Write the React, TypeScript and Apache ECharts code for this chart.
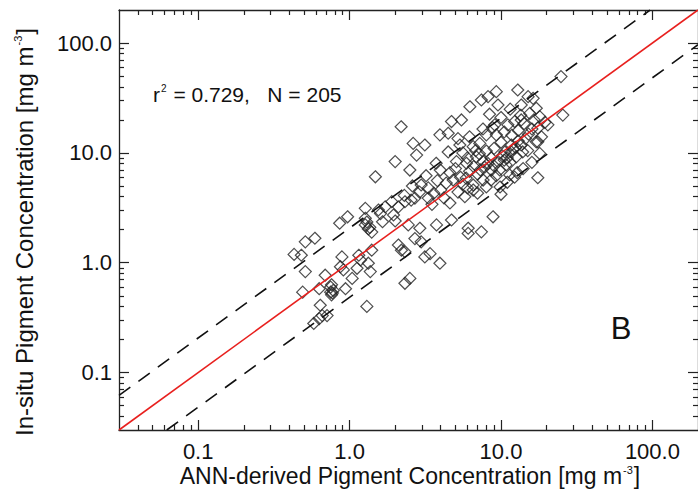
import React, { useEffect, useRef } from "react";
import * as echarts from "echarts";

// ANN-derived pigment concentration (x) and in-situ pigment concentration (y), mg m^-3
const ANN_DERIVED: number[] = [
  0.43, 0.48, 0.51, 0.59, 0.51, 0.49, 0.69, 0.63, 0.76, 0.75,
  0.76, 0.78, 0.64, 0.66, 0.71, 0.58, 0.63, 0.89, 0.87, 0.91,
  0.94, 1.04, 1.12, 1.15, 1.18, 1.4, 1.33, 1.37, 1.3, 0.86,
  0.97, 1.27, 1.27, 1.27, 1.4, 1.33, 1.55, 1.72, 1.65, 1.95,
  2.1, 2.32, 2.55, 2.7, 3.31, 2.44, 2.91, 2.7, 2.97, 2.1,
  2.2, 2.32, 3.14, 3.4, 2.32, 2.5, 3.95, 3.75, 4.71, 5.77,
  6.07, 6.07, 7.42, 8.86, 2.19, 2.63, 3.14, 2.77, 2.0, 2.5,
  1.48, 24.9, 12.9, 9.31, 8.21, 7.42, 9.55, 6.23, 15.1, 16.3,
  13.6, 17.1, 15.5, 18.0, 25.6, 20.4, 5.48, 4.71, 4.48, 3.95,
  9.09, 11.1, 12.3, 13.6, 8.0, 9.31, 7.24, 6.55, 11.7, 13.6,
  17.1, 5.35, 4.48, 5.08, 10.6, 11.7, 12.6, 13.9, 18.0, 17.5,
  5.91, 6.88, 7.62, 8.63, 9.55, 10.8, 4.35, 4.83, 5.89, 6.55,
  7.62, 8.59, 9.85, 11.4, 12.3, 6.55, 17.5, 3.73, 3.97, 2.97,
  3.31, 3.6, 4.0, 4.2, 3.5, 2.9, 2.6, 3.2, 3.8, 4.6,
  5.0, 5.4, 5.6, 6.2, 6.6, 7.0, 7.3, 7.8, 8.2, 8.6,
  9.0, 9.3, 9.8, 10.2, 10.5, 11.0, 11.5, 12.0, 12.5, 13.0,
  14.5, 15.2, 16.0, 10.0, 9.0, 8.0, 7.2, 6.8, 6.0, 5.6,
  5.2, 6.2, 7.6, 8.8, 10.5, 11.8, 13.0, 14.2, 10.0, 8.4,
  11.5, 13.5, 16.5, 17.5, 18.5, 19.5, 15.0, 16.0, 14.0, 12.8,
  11.0, 10.0, 8.0, 7.0, 6.0, 5.2, 4.6, 2.3, 1.9, 1.6,
  1.3, 1.36, 0.75, 0.77, 2.0,
];

const IN_SITU: number[] = [
  1.19, 1.17, 1.55, 1.67, 0.83, 0.54, 0.77, 0.58, 0.63, 0.54,
  0.51, 0.56, 0.41, 0.33, 0.33, 0.28, 0.31, 1.13, 0.92, 0.86,
  0.58, 0.72, 0.89, 1.17, 1.06, 1.3, 0.99, 0.83, 0.4, 2.29,
  2.62, 3.13, 2.54, 2.21, 1.9, 2.03, 3.02, 3.23, 2.36, 2.72,
  3.23, 3.59, 3.72, 3.88, 3.88, 2.21, 2.06, 1.66, 1.55, 1.45,
  1.3, 1.26, 1.13, 1.21, 0.65, 0.72, 0.99, 2.21, 2.45, 3.99,
  2.06, 1.85, 1.91, 2.62, 17.3, 12.2, 11.8, 9.55, 8.33, 6.98,
  6.06, 49.5, 37.4, 36.1, 32.5, 30.3, 27.3, 26.3, 32.5, 31.4,
  27.3, 25.5, 22.9, 21.4, 22.1, 18.0, 19.95, 19.3, 15.1, 14.6,
  18.0, 18.0, 19.3, 19.95, 14.6, 14.6, 12.2, 11.4, 11.8, 11.8,
  12.6, 11.8, 10.2, 8.33, 10.2, 10.2, 9.21, 10.2, 9.89, 12.6,
  8.05, 9.21, 8.33, 6.98, 8.33, 7.77, 5.31, 5.66, 5.9, 5.1,
  5.66, 5.66, 4.89, 6.29, 6.01, 4.59, 5.94, 8.05, 6.98, 5.1,
  4.8, 4.3, 4.6, 3.9, 3.4, 4.4, 5.0, 6.2, 5.6, 6.6,
  7.2, 6.0, 5.2, 6.8, 7.5, 6.4, 7.0, 7.4, 8.0, 9.0,
  7.6, 6.2, 7.0, 9.4, 8.6, 9.0, 8.2, 10.8, 11.2, 12.8,
  13.5, 14.8, 16.5, 12.5, 11.0, 10.4, 9.8, 10.5, 9.0, 10.0,
  13.5, 14.0, 16.5, 17.0, 15.5, 14.5, 16.0, 18.5, 21.0, 22.5,
  25.0, 22.0, 20.0, 16.8, 14.0, 19.0, 10.5, 8.2, 7.2, 6.6,
  5.4, 4.2, 4.9, 4.3, 4.8, 4.4, 3.5, 4.1, 3.6, 2.8,
  2.35, 2.1, 0.6, 0.53, 2.4,
];

// 1:1 line and the factor-of-two envelope
const ONE_TO_ONE: number[][] = [[0.03, 0.03], [200, 200]];
const UPPER_ENVELOPE: number[][] = [[0.03, 0.062], [96.6, 200]];
const LOWER_ENVELOPE: number[][] = [[0.062, 0.03], [200, 96.6]];

const AXIS_MIN = 0.03;
const AXIS_MAX = 200;
const MAJOR_TICKS = [0.1, 1, 10, 100];
const MINOR_TICKS = [
  0.04, 0.05, 0.06, 0.07, 0.08, 0.09,
  0.2, 0.3, 0.4, 0.5, 0.6, 0.7, 0.8, 0.9,
  2, 3, 4, 5, 6, 7, 8, 9,
  20, 30, 40, 50, 60, 70, 80, 90,
];

const STATS_TEXT = "r{s|2} = 0.729,   N = 205";
const PANEL_LABEL = "B";
const X_TITLE = "ANN-derived Pigment Concentration [mg m{s|-3}]";
const Y_TITLE = "In-situ Pigment Concentration [mg m{s|-3}]";

const FONT = '"Liberation Sans", Arial, Helvetica, sans-serif';
const INK = "#111";
const AXIS_COLOR = "#222";

function makeAxis(kind: "x" | "y", position: string, major: boolean, showLabel: boolean) {
  return {
    type: "log",
    logBase: 10,
    min: AXIS_MIN,
    max: AXIS_MAX,
    position,
    gridIndex: 0,
    axisLine: { show: major, lineStyle: { color: AXIS_COLOR, width: 1.3 } },
    axisTick: {
      show: true,
      inside: true,
      length: major ? 10 : 5,
      customValues: major ? MAJOR_TICKS : MINOR_TICKS,
      lineStyle: { color: AXIS_COLOR, width: 1.2 },
    },
    axisLabel: {
      show: showLabel,
      customValues: MAJOR_TICKS,
      formatter: (v: number) => Number(v).toFixed(1),
      fontSize: 22,
      lineHeight: 22,
      fontFamily: FONT,
      color: INK,
      margin: kind === "x" ? 10 : 7,
    },
    minorTick: { show: false },
    splitLine: { show: false },
  };
}

export default function App() {
  const ref = useRef<HTMLDivElement>(null);

  useEffect(() => {
    if (!ref.current) return;
    const chart = echarts.init(ref.current, undefined, { renderer: "svg" });

    const points = ANN_DERIVED.map((x, i) => [x, IN_SITU[i]]);
    const sup = { fontSize: 10, fontFamily: FONT, fill: INK, verticalAlign: "top", padding: [0, 1, 12, 1] };

    chart.setOption({
      animation: false,
      backgroundColor: "#fff",
      grid: { left: 119, top: 10, width: 582, height: 420, containLabel: false },
      xAxis: [
        makeAxis("x", "bottom", true, true),
        makeAxis("x", "top", true, false),
        makeAxis("x", "bottom", false, false),
        makeAxis("x", "top", false, false),
      ],
      yAxis: [
        makeAxis("y", "left", true, true),
        makeAxis("y", "right", true, false),
        makeAxis("y", "left", false, false),
        makeAxis("y", "right", false, false),
      ],
      series: [
        {
          type: "line",
          data: UPPER_ENVELOPE,
          xAxisIndex: 0,
          yAxisIndex: 0,
          showSymbol: false,
          symbol: "none",
          silent: true,
          lineStyle: { color: "#111", width: 1.6, type: [14, 10] },
        },
        {
          type: "line",
          data: LOWER_ENVELOPE,
          xAxisIndex: 0,
          yAxisIndex: 0,
          showSymbol: false,
          symbol: "none",
          silent: true,
          lineStyle: { color: "#111", width: 1.6, type: [14, 10] },
        },
        {
          type: "scatter",
          data: points,
          xAxisIndex: 0,
          yAxisIndex: 0,
          symbol: "diamond",
          symbolSize: [12, 12],
          silent: true,
          itemStyle: { color: "rgba(0,0,0,0)", borderColor: "#222", borderWidth: 1.2 },
        },
        {
          type: "line",
          data: ONE_TO_ONE,
          xAxisIndex: 0,
          yAxisIndex: 0,
          showSymbol: false,
          symbol: "none",
          silent: true,
          lineStyle: { color: "#e8201e", width: 1.6 },
        },
      ],
      graphic: [
        {
          type: "text",
          x: 153,
          y: 94,
          style: {
            text: STATS_TEXT,
            fontSize: 21,
            fontFamily: FONT,
            fill: INK,
            verticalAlign: "middle",
            rich: { s: sup },
          },
        },
        {
          type: "text",
          x: 621,
          y: 328,
          style: {
            text: PANEL_LABEL,
            fontSize: 31,
            fontFamily: FONT,
            fill: INK,
            align: "center",
            verticalAlign: "middle",
          },
        },
        {
          type: "text",
          x: 410,
          y: 476,
          style: {
            text: X_TITLE,
            fontSize: 23,
            lineHeight: 23,
            fontFamily: FONT,
            fill: INK,
            align: "center",
            verticalAlign: "middle",
            rich: { s: { ...sup, fontSize: 11 } },
          },
        },
        {
          type: "text",
          x: 24,
          y: 232,
          rotation: Math.PI / 2,
          style: {
            text: Y_TITLE,
            fontSize: 24,
            fontFamily: FONT,
            fill: INK,
            align: "center",
            verticalAlign: "middle",
            rich: { s: { ...sup, fontSize: 11 } },
          },
        },
      ],
    });

    return () => chart.dispose();
  }, []);

  return (
    <div
      ref={ref}
      style={{ position: "fixed", left: 0, top: 0, width: 698, height: 497, background: "#fff" }}
    />
  );
}
